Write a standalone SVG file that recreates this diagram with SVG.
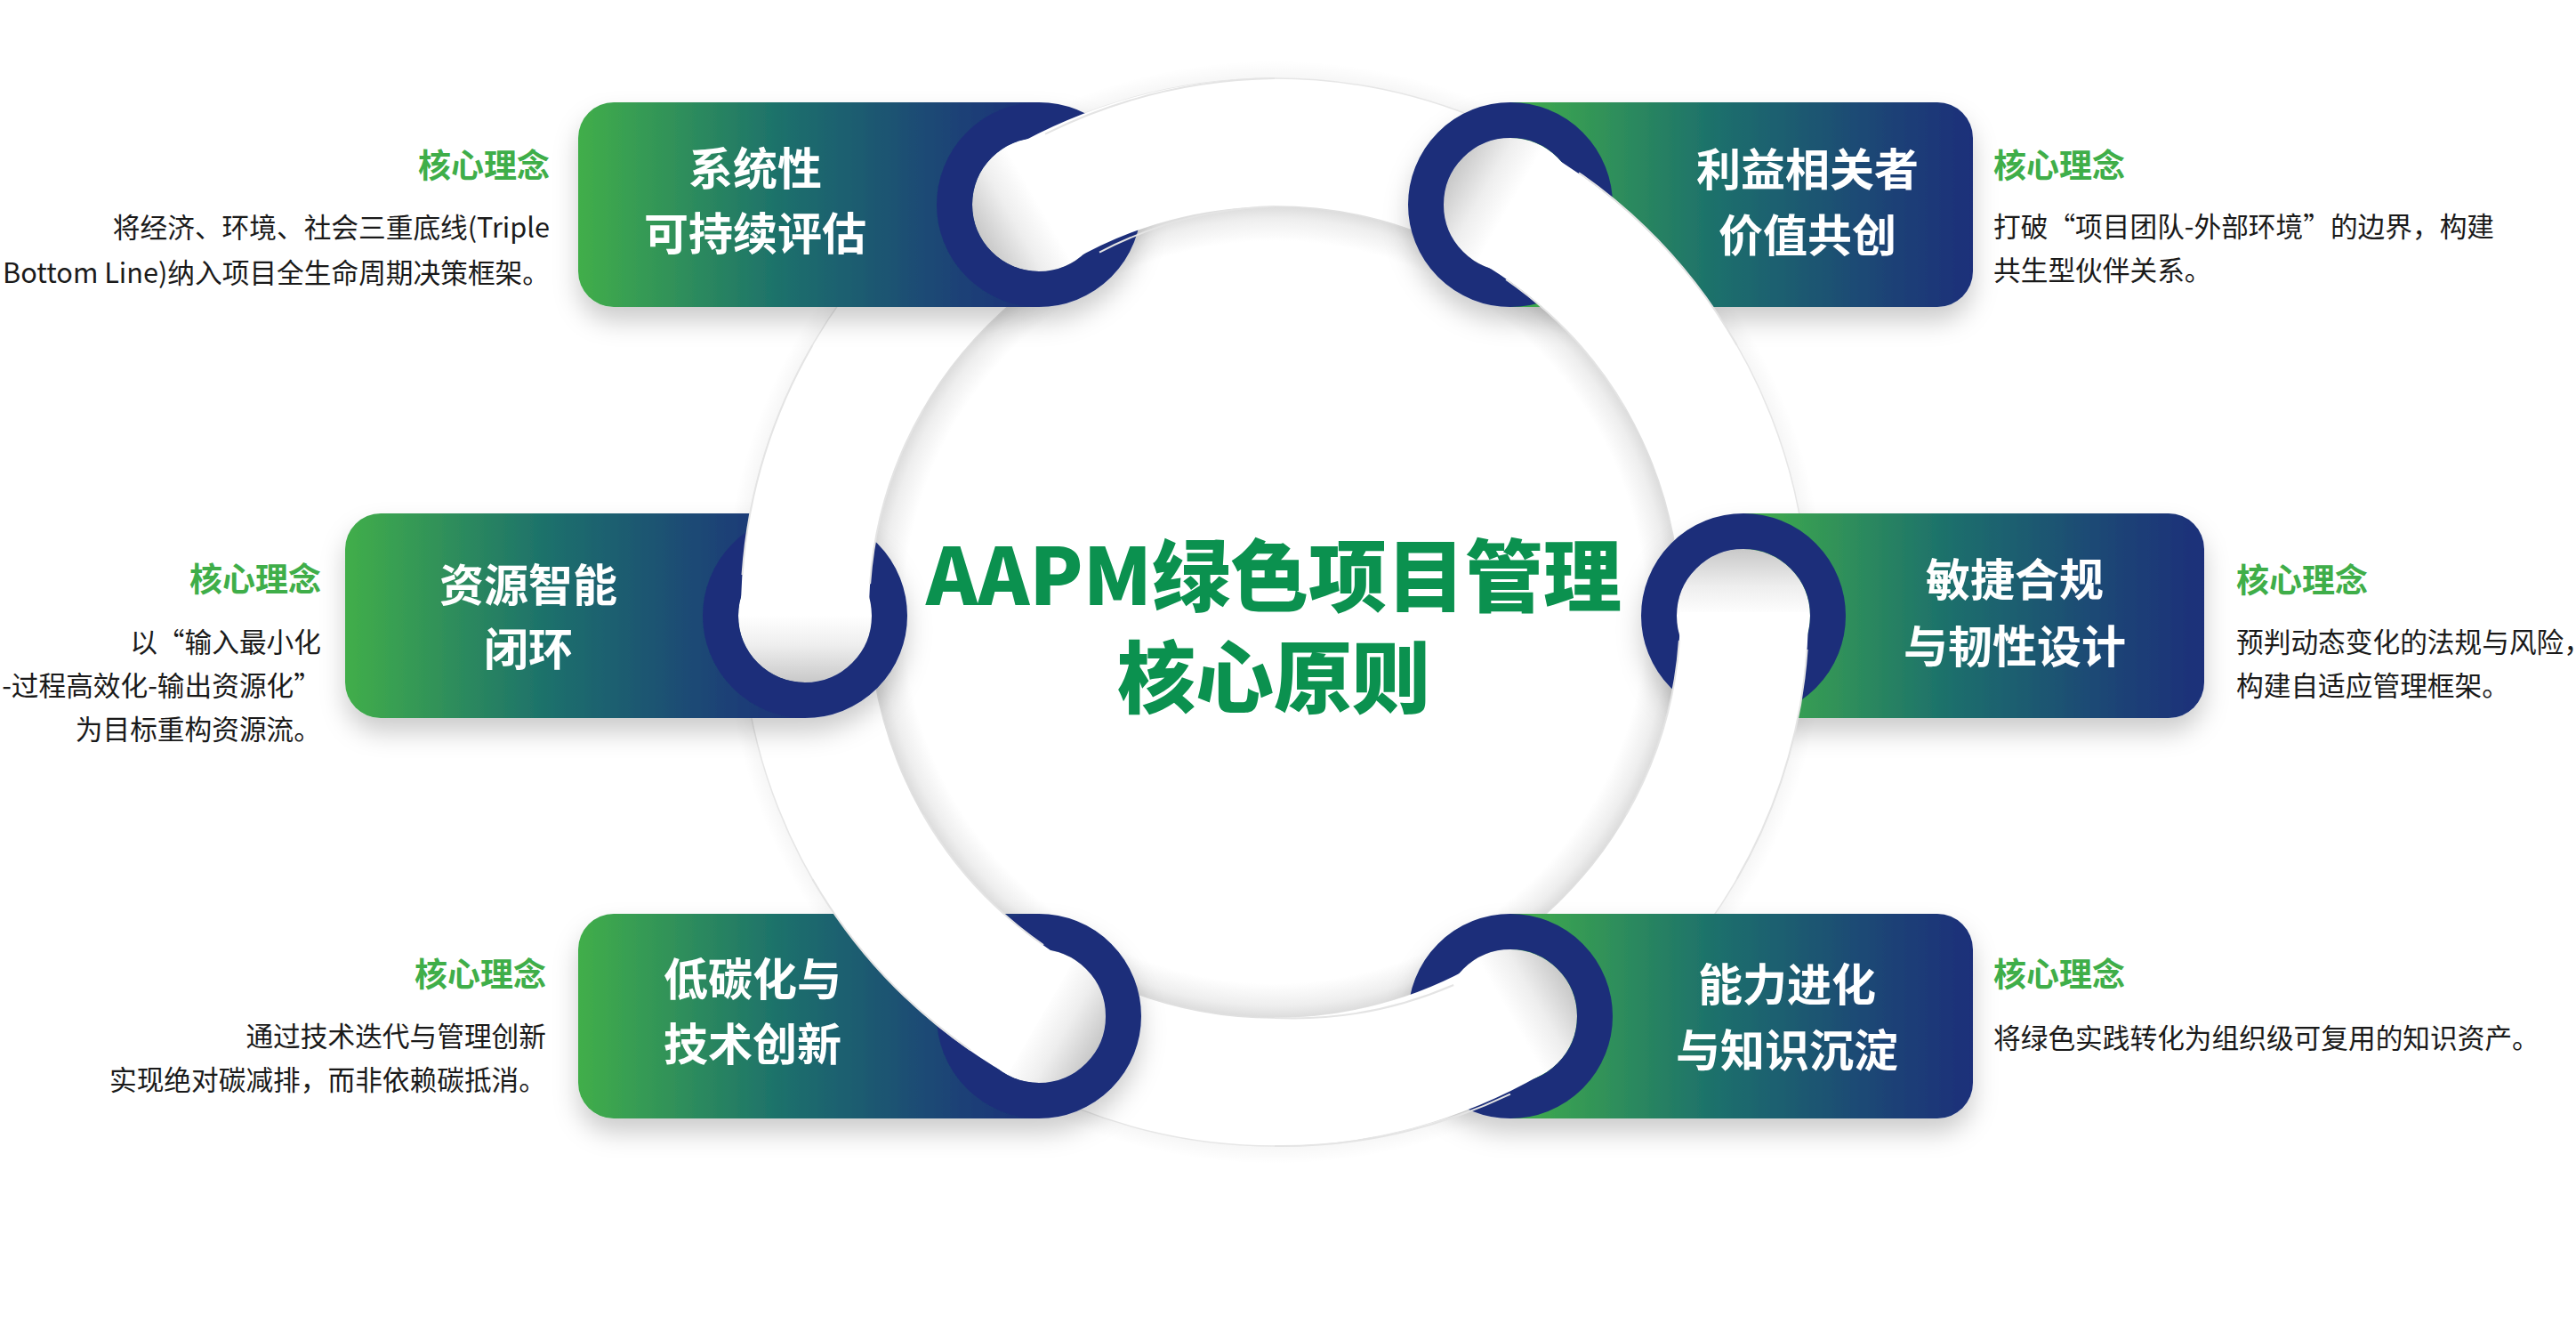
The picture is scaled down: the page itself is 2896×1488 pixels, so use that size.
<svg xmlns="http://www.w3.org/2000/svg" width="2896" height="1488" viewBox="0 0 2896 1488">
<defs>
<style>
text{font-family:"Noto Sans CJK SC","Noto Sans",sans-serif;}
.title{font-size:50px;font-weight:700;fill:#ffffff;text-anchor:middle;}
.kl{font-size:37px;font-weight:700;fill:#3fae49;}
.desc{font-size:30.7px;font-weight:400;fill:#1a1a1a;}
.end{text-anchor:end;}
.main{font-size:88px;font-weight:900;fill:#0b914f;text-anchor:middle;}
.ring{fill:none;stroke:#1b2f7a;stroke-width:40;}
.over{fill:#ffffff;}
.edge{fill:none;stroke:#e4e4e4;stroke-width:2;}
</style>
<linearGradient id="gNode" x1="0" y1="0" x2="1" y2="0">
<stop offset="0" stop-color="#41ae4a"/>
<stop offset="0.45" stop-color="#1c6f6c"/>
<stop offset="0.82" stop-color="#1a4276"/>
<stop offset="1" stop-color="#1b2f7a"/>
</linearGradient>
<radialGradient id="gDisc" cx="1433" cy="688" r="456" gradientUnits="userSpaceOnUse">
<stop offset="0.915" stop-color="#ffffff"/>
<stop offset="0.97" stop-color="#eeeeee"/>
<stop offset="1" stop-color="#dcdcdc"/>
</radialGradient>
<radialGradient id="gOut" cx="1433" cy="688" r="620" gradientUnits="userSpaceOnUse">
<stop offset="0.965" stop-color="#000000" stop-opacity="0"/>
<stop offset="0.968" stop-color="#000000" stop-opacity="0.035"/>
<stop offset="1" stop-color="#000000" stop-opacity="0"/>
</radialGradient>
<linearGradient id="hTL" gradientUnits="userSpaceOnUse" x1="1104" y1="267" x2="1168" y2="230"><stop offset="0" stop-color="#c9c9c9"/><stop offset="0.55" stop-color="#eeeeee"/><stop offset="1" stop-color="#ffffff"/></linearGradient>
<linearGradient id="hTR" gradientUnits="userSpaceOnUse" x1="1634" y1="193" x2="1698" y2="230"><stop offset="0" stop-color="#c9c9c9"/><stop offset="0.55" stop-color="#eeeeee"/><stop offset="1" stop-color="#ffffff"/></linearGradient>
<linearGradient id="hMR" gradientUnits="userSpaceOnUse" x1="1960" y1="618" x2="1960" y2="692"><stop offset="0" stop-color="#c9c9c9"/><stop offset="0.55" stop-color="#eeeeee"/><stop offset="1" stop-color="#ffffff"/></linearGradient>
<linearGradient id="hBR" gradientUnits="userSpaceOnUse" x1="1762" y1="1105" x2="1698" y2="1142"><stop offset="0" stop-color="#c9c9c9"/><stop offset="0.55" stop-color="#eeeeee"/><stop offset="1" stop-color="#ffffff"/></linearGradient>
<linearGradient id="hBL" gradientUnits="userSpaceOnUse" x1="1232" y1="1179" x2="1168" y2="1142"><stop offset="0" stop-color="#c9c9c9"/><stop offset="0.55" stop-color="#eeeeee"/><stop offset="1" stop-color="#ffffff"/></linearGradient>
<linearGradient id="hML" gradientUnits="userSpaceOnUse" x1="905" y1="766" x2="905" y2="692"><stop offset="0" stop-color="#c9c9c9"/><stop offset="0.55" stop-color="#eeeeee"/><stop offset="1" stop-color="#ffffff"/></linearGradient>
<filter id="ds" x="-15%" y="-25%" width="130%" height="160%">
<feDropShadow dx="0" dy="16" stdDeviation="14" flood-color="#000000" flood-opacity="0.2"/>
</filter>
</defs>
<rect width="2896" height="1488" fill="#ffffff"/>

<g id="band-base">
<circle cx="1433" cy="688" r="620" fill="url(#gOut)"/>
<circle cx="1433" cy="688" r="600" fill="#ffffff" stroke="#e6e6e6" stroke-width="1.5"/>
<circle cx="1433" cy="688" r="456" fill="url(#gDisc)" stroke="#e0e0e0" stroke-width="1.5"/>
</g>

<g id="node-tl">
<g filter="url(#ds)">
<path d="M690,115 H1168 V345 H690 A40,40 0 0 1 650,305 V155 A40,40 0 0 1 690,115 Z" fill="url(#gNode)"/>
<circle cx="1168" cy="230" r="75" fill="url(#hTL)"/>
<circle class="ring" cx="1168" cy="230" r="95"/>
</g>
<text class="title" x="849" y="208">系统性</text>
<text class="title" x="849" y="281">可持续评估</text>
<text class="kl end" x="618" y="200">核心理念</text>
<text class="desc end" x="618" y="267">将经济、环境、社会三重底线(Triple</text>
<text class="desc end" x="618" y="318">Bottom Line)纳入项目全生命周期决策框架。</text>
</g>

<g id="node-tr">
<g filter="url(#ds)">
<path d="M1698,115 H2178 A40,40 0 0 1 2218,155 V305 A40,40 0 0 1 2178,345 H1698 Z" fill="url(#gNode)"/>
<circle cx="1698" cy="230" r="75" fill="url(#hTR)"/>
<circle class="ring" cx="1698" cy="230" r="95"/>
</g>
<text class="title" x="2032" y="209">利益相关者</text>
<text class="title" x="2032" y="283">价值共创</text>
<text class="kl" x="2241" y="200">核心理念</text>
<text class="desc" x="2241" y="266">打破“项目团队-外部环境”的边界，构建</text>
<text class="desc" x="2241" y="315">共生型伙伴关系。</text>
</g>

<g id="node-ml">
<g filter="url(#ds)">
<path d="M428,577 H905 V807 H428 A40,40 0 0 1 388,767 V617 A40,40 0 0 1 428,577 Z" fill="url(#gNode)"/>
<circle cx="905" cy="692" r="75" fill="url(#hML)"/>
<circle class="ring" cx="905" cy="692" r="95"/>
</g>
<text class="title" x="594" y="676">资源智能</text>
<text class="title" x="594" y="748">闭环</text>
<text class="kl end" x="361" y="665">核心理念</text>
<text class="desc end" x="361" y="733">以“输入最小化</text>
<text class="desc end" x="361" y="782">-过程高效化-输出资源化”</text>
<text class="desc end" x="361" y="831">为目标重构资源流。</text>
</g>

<g id="node-mr">
<g filter="url(#ds)">
<path d="M1960,577 H2438 A40,40 0 0 1 2478,617 V767 A40,40 0 0 1 2438,807 H1960 Z" fill="url(#gNode)"/>
<circle cx="1960" cy="692" r="75" fill="url(#hMR)"/>
<circle class="ring" cx="1960" cy="692" r="95"/>
</g>
<text class="title" x="2265" y="670">敏捷合规</text>
<text class="title" x="2265" y="745">与韧性设计</text>
<text class="kl" x="2514" y="666">核心理念</text>
<text class="desc" x="2514" y="733">预判动态变化的法规与风险，</text>
<text class="desc" x="2514" y="782">构建自适应管理框架。</text>
</g>

<g id="node-bl">
<g filter="url(#ds)">
<path d="M690,1027 H1168 V1257 H690 A40,40 0 0 1 650,1217 V1067 A40,40 0 0 1 690,1027 Z" fill="url(#gNode)"/>
<circle cx="1168" cy="1142" r="75" fill="url(#hBL)"/>
<circle class="ring" cx="1168" cy="1142" r="95"/>
</g>
<text class="title" x="846" y="1119">低碳化与</text>
<text class="title" x="846" y="1192">技术创新</text>
<text class="kl end" x="614" y="1109">核心理念</text>
<text class="desc end" x="614" y="1176">通过技术迭代与管理创新</text>
<text class="desc end" x="614" y="1225">实现绝对碳减排，而非依赖碳抵消。</text>
</g>

<g id="node-br">
<g filter="url(#ds)">
<path d="M1698,1027 H2178 A40,40 0 0 1 2218,1067 V1217 A40,40 0 0 1 2178,1257 H1698 Z" fill="url(#gNode)"/>
<circle cx="1698" cy="1142" r="75" fill="url(#hBR)"/>
<circle class="ring" cx="1698" cy="1142" r="95"/>
</g>
<text class="title" x="2009" y="1125">能力进化</text>
<text class="title" x="2009" y="1199">与知识沉淀</text>
<text class="kl" x="2241" y="1109">核心理念</text>
<text class="desc" x="2241" y="1178">将绿色实践转化为组织级可复用的知识资产。</text>
</g>

<g id="connectors">
<path class="over" d="M1133,168.4 A600,600 0 0 1 1433,88 L1433,232 A456,456 0 0 0 1205,293.1 Z"/>
<path class="over" d="M1733,168.4 A600,600 0 0 1 1952.6,388 L1827.9,460 A456,456 0 0 0 1661,293.1 Z"/>
<path class="over" d="M2033,688 A600,600 0 0 1 1952.6,988 L1827.9,916 A456,456 0 0 0 1889,688 Z"/>
<path class="over" d="M1733,1207.6 A600,600 0 0 1 1433,1288 L1433,1144 A456,456 0 0 0 1661,1082.9 Z"/>
<path class="over" d="M1133,1207.6 A600,600 0 0 1 913.4,988 L1038.1,916 A456,456 0 0 0 1205,1082.9 Z"/>
<path class="over" d="M833,688 A600,600 0 0 1 913.4,388 L1038.1,460 A456,456 0 0 0 977,688 Z"/>
<path class="edge" d="M1175,150.6 A600,600 0 0 1 1433,88 M1236,283.6 A456,456 0 0 1 1433,232"/>
<path class="edge" d="M1775,194.2 A600,600 0 0 1 1952.6,388 M1693,314 A456,456 0 0 1 1827.9,460"/>
<path class="edge" d="M2031.6,729.9 A600,600 0 0 1 1952.6,988 M1887.9,719.8 A456,456 0 0 1 1827.9,916"/>
<path class="edge" d="M1697.9,1229.7 A600,600 0 0 1 1433,1288 M1634.2,1107 A456,456 0 0 1 1433,1144"/>
<path class="edge" d="M1091.1,1180.2 A600,600 0 0 1 913.4,988 M1173,1062 A456,456 0 0 1 1038.1,916"/>
<path class="edge" d="M834.5,646.1 A600,600 0 0 1 913.4,388 M978.1,656.2 A456,456 0 0 1 1038.1,460"/>
</g>

<g id="center-title">
<text class="main" x="1432" y="680">AAPM绿色项目管理</text>
<text class="main" x="1432" y="794">核心原则</text>
</g>
</svg>
